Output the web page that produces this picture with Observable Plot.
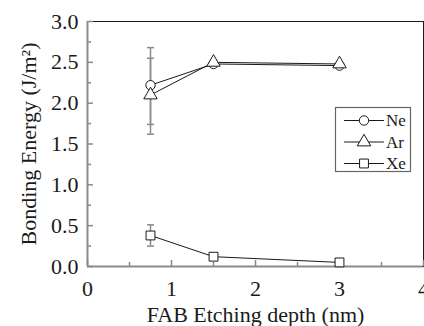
<!DOCTYPE html>
<html>
<head>
<meta charset="utf-8">
<script src="https://cdn.jsdelivr.net/npm/d3@7"></script>
<script src="https://cdn.jsdelivr.net/npm/@observablehq/plot@0.6"></script>
<style>
  html, body { margin: 0; padding: 0; background: #fff; }
  #wrap { position: relative; width: 424px; height: 326px; overflow: hidden; }
  #wrap svg, #wrap svg text { font-family: 'Liberation Serif', 'Times New Roman', serif !important; }
  #legend { position: absolute; left: 335px; top: 107px; overflow: visible; }
</style>
</head>
<body>
<div id="wrap"></div>
<script>
// ---- data ----
const depth = [0.75, 1.5, 3];
const seriesNames = ["Ne", "Ar", "Xe"];
const symbols = ["circle", "triangle", "square"];
const neValues = [2.22, 2.48, 2.46];
const arValues = [2.10, 2.50, 2.48];
const xeValues = [0.38, 0.12, 0.05];
const neLow = [1.62, 2.45, 2.44];
const neHigh = [2.68, 2.51, 2.48];
const arLow = [1.74, 2.47, 2.46];
const arHigh = [2.55, 2.53, 2.50];
const xeLow = [0.25, 0.09, 0.04];
const xeHigh = [0.51, 0.15, 0.06];
const xMajor = [0, 1, 2, 3, 4];
const xMinor = [0.5, 1.5, 2.5, 3.5];
const yMajor = [0, 0.5, 1, 1.5, 2, 2.5, 3];
const yMinor = [0.25, 0.75, 1.25, 1.75, 2.25, 2.75];
const xLabel = "FAB Etching depth (nm)";
const yLabel = "Bonding Energy (J/m²)";

const values = [neValues, arValues, xeValues];
const lows = [neLow, arLow, xeLow];
const highs = [neHigh, arHigh, xeHigh];
const rows = [];
seriesNames.forEach((s, i) => depth.forEach((d, j) => rows.push({
  series: s, symbol: symbols[i], x: d, y: values[i][j], lo: lows[i][j], hi: highs[i][j]
})));

const cap = { draw(ctx, size) { ctx.moveTo(-3.5, 0); ctx.lineTo(3.5, 0); } };
const font = "'Liberation Serif', 'Times New Roman', serif";
const gray = "#8a8a8a";
const ink = "#1a1a1a";

const chart = Plot.plot({
  width: 424, height: 326,
  marginLeft: 87, marginRight: 1, marginTop: 21, marginBottom: 60,
  style: { fontFamily: font, fontSize: "22px", color: ink, background: "#fff", overflow: "visible" },
  x: { domain: [0, 4], label: null },
  y: { domain: [0, 3], label: null },
  marks: [
    Plot.frame({ stroke: ink, strokeWidth: 1 }),
    Plot.ruleX([0], { stroke: gray, strokeWidth: 2 }),
    Plot.ruleY([0], { stroke: gray, strokeWidth: 2 }),
    Plot.axisX({ ticks: xMajor, tickSize: -6, tickFormat: () => "", label: null, stroke: gray, strokeWidth: 1.5 }),
    Plot.axisX({ ticks: xMinor, tickSize: -4, tickFormat: () => "", label: null, stroke: gray, strokeWidth: 1.5 }),
    Plot.axisY({ ticks: yMajor, tickSize: -6, tickFormat: () => "", label: null, stroke: gray, strokeWidth: 1.5 }),
    Plot.axisY({ ticks: yMinor, tickSize: -4, tickFormat: () => "", label: null, stroke: gray, strokeWidth: 1.5 }),
    Plot.axisX({ ticks: xMajor, tickSize: 0, tickPadding: 14, tickFormat: d3.format("d"), label: null, fill: ink, fontSize: 22, fontFamily: font }),
    Plot.axisY({ ticks: yMajor, tickSize: 0, tickPadding: 9, tickFormat: d3.format(".1f"), label: null, fill: ink, fontSize: 22, fontFamily: font }),
    Plot.text([xLabel], { frameAnchor: "bottom", dy: 55, text: d => d, fill: ink, fontSize: 22, fontFamily: font, lineAnchor: "bottom" }),
    Plot.text([yLabel], { frameAnchor: "left", dx: -59, rotate: -90, textAnchor: "middle", text: d => d, fill: ink, fontSize: 22, fontFamily: font }),
    Plot.ruleX(rows, { x: "x", y1: "lo", y2: "hi", stroke: gray, strokeWidth: 1.5 }),
    Plot.dot(rows, { x: "x", y: "lo", symbol: () => cap, r: 3, stroke: gray, strokeWidth: 1.5 }),
    Plot.dot(rows, { x: "x", y: "hi", symbol: () => cap, r: 3, stroke: gray, strokeWidth: 1.5 }),
    Plot.line(rows, { x: "x", y: "y", z: "series", stroke: ink, strokeWidth: 1 }),
    Plot.dot(rows.filter(d => d.series === "Xe"), { x: "x", y: "y", symbol: "square", r: 5, fill: "#fff", stroke: ink, strokeWidth: 1 }),
    Plot.dot(rows.filter(d => d.series === "Ne"), { x: "x", y: "y", symbol: "circle", r: 4.7, fill: "#fff", stroke: ink, strokeWidth: 1 }),
    Plot.dot(rows.filter(d => d.series === "Ar"), { x: "x", y: "y", symbol: "triangle", r: 5, fill: "#fff", stroke: ink, strokeWidth: 1 })
  ]
});
const wrap = document.getElementById("wrap");
wrap.appendChild(chart);

// ---- legend ----
const lw = 76, lh = 65;
const leg = d3.create("svg").attr("id", "legend").attr("width", lw).attr("height", lh)
  .style("font-family", font).style("font-size", "17px");
leg.append("rect").attr("x", 0.5).attr("y", 0.5).attr("width", lw - 1).attr("height", lh - 1)
  .attr("fill", "#fff").attr("stroke", "#666").attr("stroke-width", 1.2);
const symMap = { circle: d3.symbolCircle, triangle: d3.symbolTriangle, square: d3.symbolSquare };
const sizes = { circle: Math.PI * 4.7 * 4.7, triangle: Math.PI * 25, square: Math.PI * 25 };
seriesNames.forEach((s, i) => {
  const cy = 13.5 + i * 21.5;
  const g = leg.append("g").attr("transform", `translate(0,${cy})`);
  g.append("line").attr("x1", 9).attr("x2", 49).attr("y1", 0).attr("y2", 0).attr("stroke", ink);
  g.append("path").attr("transform", "translate(29,0)")
    .attr("d", d3.symbol(symMap[symbols[i]], sizes[symbols[i]])())
    .attr("fill", "#fff").attr("stroke", ink);
  g.append("text").attr("x", 51).attr("y", 0).attr("dy", "0.35em").attr("fill", ink).text(s);
});
wrap.appendChild(leg.node());
</script>
</body>
</html>
